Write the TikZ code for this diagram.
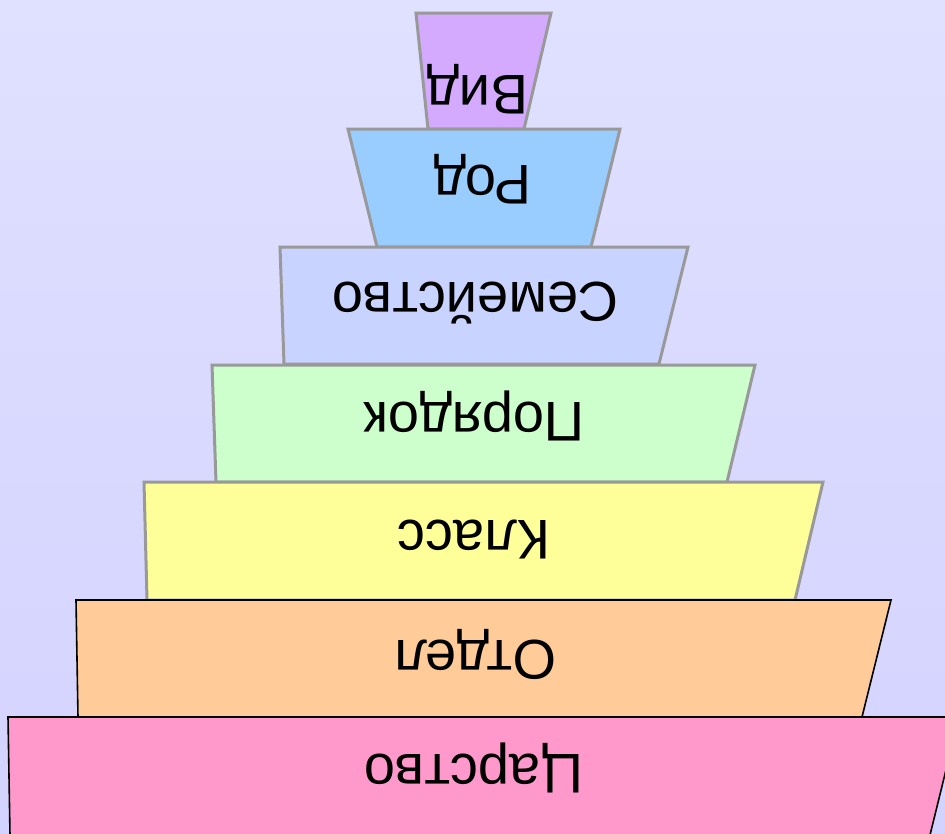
\documentclass[tikz,border=0pt]{standalone}
\usepackage{fontspec}
\setmainfont{Liberation Sans}
\tikzset{
  tier/.style={draw=black!40, line width=3pt, line join=miter},
  tierdark/.style={draw=black, line width=1.6pt, line join=miter},
  lbl/.style={rotate=180, anchor=base, inner sep=0pt, text=black,
    font=\fontsize{56}{60}\selectfont}
}
\definecolor{cVid}{HTML}{D4AAFF}
\definecolor{cRod}{HTML}{99CCFF}
\definecolor{cSem}{HTML}{C8D4FF}
\definecolor{cPor}{HTML}{CCFFCC}
\definecolor{cKla}{HTML}{FFFF99}
\definecolor{cOtd}{HTML}{FFCC99}
\definecolor{cCar}{HTML}{FF99CC}
\definecolor{bgTop}{HTML}{E0E0FF}
\definecolor{bgBot}{HTML}{D3D3FF}
\begin{document}
\begin{tikzpicture}[x=1pt, y=-1pt]
  \useasboundingbox (0,0) rectangle (945,833);
  \clip (0,0) rectangle (945,833);
  % backdrop
  \shade[top color=bgTop, bottom color=bgBot] (0,0) rectangle (945,833);
  % tiers, narrowest first
  \path[tier, fill=cVid] (416,13) -- (551,13) -- (524,129) -- (428,129) -- cycle;
  \path[tier, fill=cRod] (348,129) -- (620,129) -- (591,247) -- (377,247) -- cycle;
  \path[tier, fill=cSem] (280,247) -- (688,247) -- (659,364) -- (284,364) -- cycle;
  \path[tier, fill=cPor] (212,365) -- (755,365) -- (727,482) -- (216,482) -- cycle;
  \path[tier, fill=cKla] (144,482) -- (823,482) -- (795,600) -- (147,600) -- cycle;
  \path[tierdark, fill=cOtd] (76,600) -- (891,600) -- (862,717) -- (78,717) -- cycle;
  \path[tierdark, fill=cCar] (8,717) -- (959,717) -- (930,835) -- (10,835) -- cycle;
  % rank names
  \node[lbl] (vid) at (477.5,75) {Вид};
  \node[lbl] (rod) at (483,165) {Род};
  \node[lbl] (sem) at (475.5,282) {Семейство};
  \node[lbl] (por) at (474.5,402) {Порядок};
  \node[lbl] (kla) at (474,520) {Класс};
  \node[lbl] (otd) at (475.5,640) {Отдел};
  \node[lbl] (car) at (474,754) {Царство};
\end{tikzpicture}
\end{document}
